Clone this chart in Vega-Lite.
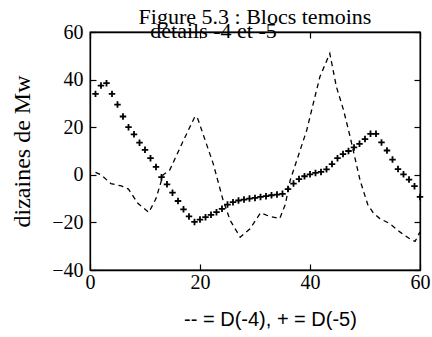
{
  "$schema": "https://vega.github.io/schema/vega-lite/v6.json",
  "width": 330,
  "height": 238,
  "autosize": "none",
  "padding": {"left": 90, "top": 32, "right": 12, "bottom": 67},
  "background": "white",
  "title": {
    "text": "Figure 5.3 : Blocs temoins",
    "font": "Liberation Serif",
    "fontSize": 22,
    "fontWeight": "normal",
    "color": "black",
    "anchor": "middle",
    "frame": "group",
    "baseline": "alphabetic",
    "offset": 0,
    "dy": 27
  },
  "config": {
    "view": {"stroke": "black", "strokeWidth": 1.3},
    "axis": {
      "domainColor": "black",
      "tickColor": "black",
      "labelColor": "black",
      "titleColor": "black",
      "labelFont": "Liberation Serif",
      "titleFont": "Liberation Serif",
      "labelFontSize": 20,
      "titleFontSize": 22,
      "titleFontWeight": "normal",
      "grid": false,
      "tickSize": -6,
      "tickWidth": 1.2,
      "domainWidth": 1.3
    }
  },
  "datasets": {
    "d4": [
      {"x": 1, "y": 1}, {"x": 2, "y": 0}, {"x": 3.8, "y": -3.7}, {"x": 5.7, "y": -4.7},
      {"x": 7, "y": -6}, {"x": 8.7, "y": -12}, {"x": 10.7, "y": -15.8}, {"x": 12, "y": -10},
      {"x": 13.3, "y": 0}, {"x": 14.5, "y": 2}, {"x": 15.4, "y": 6.5}, {"x": 17, "y": 14.5},
      {"x": 19.1, "y": 24.6}, {"x": 19.6, "y": 23.5}, {"x": 22.4, "y": 4.7}, {"x": 24.2, "y": -10.7},
      {"x": 25.5, "y": -19.2}, {"x": 27.3, "y": -26.2}, {"x": 29.1, "y": -22.7}, {"x": 31, "y": -16},
      {"x": 32.7, "y": -17.5}, {"x": 34.5, "y": -18.4}, {"x": 35.5, "y": -12.5}, {"x": 36.4, "y": -2.3},
      {"x": 38.2, "y": 10.3}, {"x": 39.4, "y": 18.7}, {"x": 40.6, "y": 30}, {"x": 41.8, "y": 41.2},
      {"x": 43.6, "y": 51}, {"x": 44.8, "y": 37}, {"x": 46.1, "y": 27.2}, {"x": 47.3, "y": 15.9},
      {"x": 49.1, "y": -2.3}, {"x": 50.5, "y": -12.5}, {"x": 51.5, "y": -16}, {"x": 52.7, "y": -18.4},
      {"x": 54.5, "y": -20.5}, {"x": 56.4, "y": -24.1}, {"x": 58.2, "y": -27}, {"x": 59.1, "y": -28},
      {"x": 60, "y": -24}
    ],
    "d5": [
      {"x": 1, "y": 34}, {"x": 2, "y": 37.5}, {"x": 3, "y": 38.5}, {"x": 4, "y": 34}, {"x": 5, "y": 29.5},
      {"x": 6, "y": 24.5}, {"x": 7, "y": 20}, {"x": 8, "y": 17}, {"x": 9, "y": 13.5}, {"x": 10, "y": 10.5},
      {"x": 11, "y": 7}, {"x": 12, "y": 3.3}, {"x": 13, "y": -1}, {"x": 14, "y": -4}, {"x": 15, "y": -7.5},
      {"x": 16, "y": -11}, {"x": 17, "y": -14.5}, {"x": 18, "y": -17.5}, {"x": 19, "y": -19.8}, {"x": 20, "y": -18.8},
      {"x": 21, "y": -17.8}, {"x": 22, "y": -16.8}, {"x": 23, "y": -15.7}, {"x": 24, "y": -14.3}, {"x": 25, "y": -12.5},
      {"x": 26, "y": -11.5}, {"x": 27, "y": -10.8}, {"x": 28, "y": -10.4}, {"x": 29, "y": -10}, {"x": 30, "y": -9.7},
      {"x": 31, "y": -9.3}, {"x": 32, "y": -9}, {"x": 33, "y": -8.6}, {"x": 34, "y": -8.3}, {"x": 35, "y": -8},
      {"x": 36, "y": -6}, {"x": 37, "y": -3.7}, {"x": 38, "y": -1.8}, {"x": 39, "y": -0.6}, {"x": 40, "y": 0.2},
      {"x": 41, "y": 0.8}, {"x": 42, "y": 1.2}, {"x": 43, "y": 2.3}, {"x": 44, "y": 4.5}, {"x": 45, "y": 7},
      {"x": 46, "y": 8.7}, {"x": 47, "y": 10}, {"x": 48, "y": 11.5}, {"x": 49, "y": 13}, {"x": 50, "y": 15},
      {"x": 51, "y": 17.2}, {"x": 52, "y": 17.2}, {"x": 53, "y": 13.6}, {"x": 54, "y": 10.2}, {"x": 55, "y": 6.4},
      {"x": 56, "y": 2.4}, {"x": 57, "y": 0.2}, {"x": 58, "y": -2}, {"x": 59, "y": -4.8}, {"x": 60, "y": -9.3}
    ]
  },
  "layer": [
    {
      "data": {"name": "d4"},
      "mark": {"type": "line", "color": "black", "strokeWidth": 1.3, "strokeDash": [5, 4]},
      "encoding": {
        "x": {
          "field": "x", "type": "quantitative",
          "scale": {"domain": [0, 60], "nice": false, "zero": false},
          "axis": {
            "orient": "bottom", "values": [0, 20, 40, 60], "labelPadding": 8, "labelFlush": false,
            "title": "-- = D(-4), + = D(-5)", "titleFont": "Liberation Sans", "titleFontSize": 20,
            "titleX": 180, "titleY": 55, "titleAlign": "center", "titleBaseline": "alphabetic"
          }
        },
        "y": {
          "field": "y", "type": "quantitative",
          "scale": {"domain": [-40, 60], "nice": false, "zero": false},
          "axis": {
            "orient": "left", "values": [-40, -20, 0, 20, 40, 60], "labelPadding": 13,
            "title": "dizaines de Mw", "titleFontSize": 24, "titleAngle": -90, "titleX": -68, "titleY": 119,
            "titleAlign": "center", "titleBaseline": "middle"
          }
        }
      }
    },
    {
      "data": {"name": "d5"},
      "mark": {"type": "point", "shape": "M-1,0H1M0,-1V1", "size": 42, "filled": false, "stroke": "black", "strokeWidth": 1.8, "opacity": 1},
      "encoding": {
        "x": {
          "field": "x", "type": "quantitative",
          "axis": {
            "orient": "top", "values": [0, 20, 40, 60], "labels": false,
            "title": "details -4 et -5", "titleX": 123, "titleY": 5, "titleAlign": "center", "titleBaseline": "alphabetic"
          }
        },
        "y": {
          "field": "y", "type": "quantitative",
          "axis": {"orient": "right", "values": [-40, -20, 0, 20, 40, 60], "labels": false, "title": null}
        }
      }
    }
  ],
  "resolve": {"axis": {"x": "independent", "y": "independent"}}
}
